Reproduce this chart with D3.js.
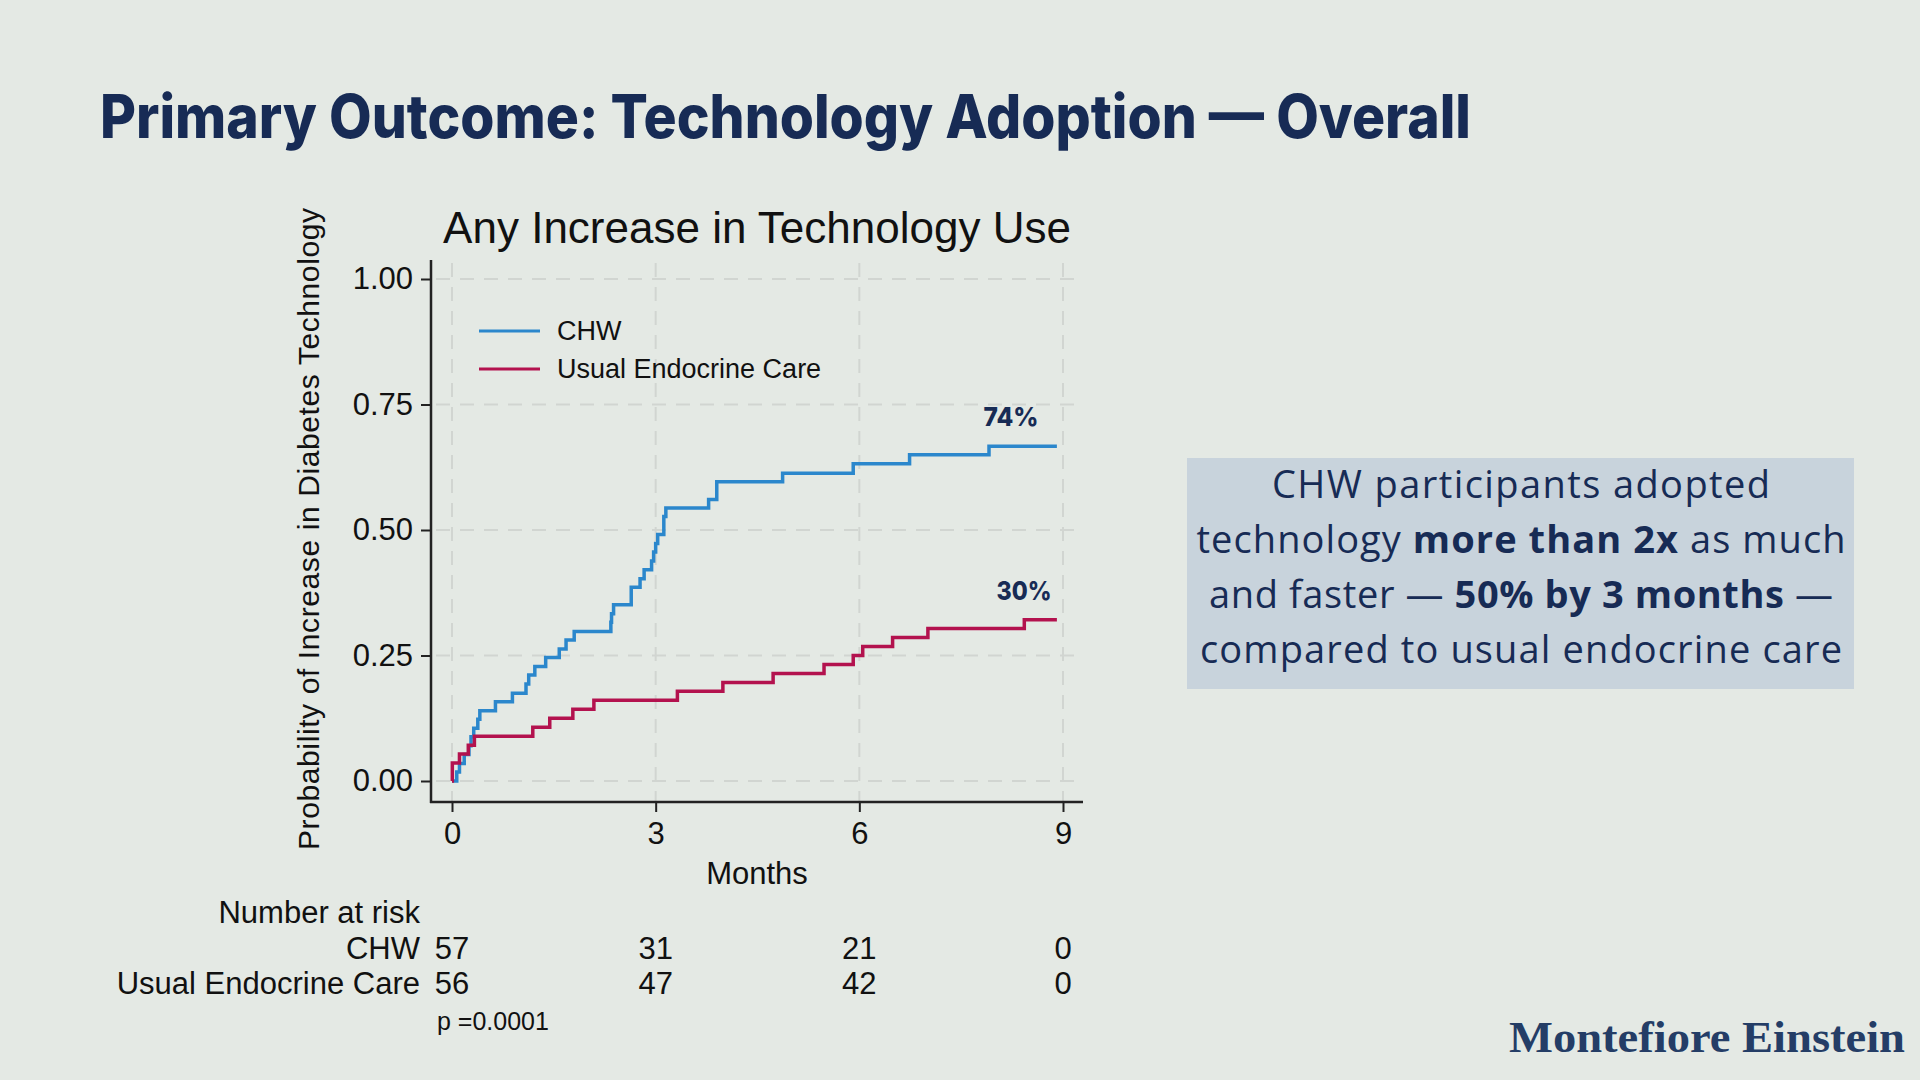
<!DOCTYPE html>
<html>
<head>
<meta charset="utf-8">
<script src="https://cdn.jsdelivr.net/npm/d3@7"></script>
<style>
  body { margin: 0; background: #e4e9e4; }
  svg { display: block; }
</style>
</head>
<body>
<div id="slide"></div>
<script>
// Kaplan-Meier style step data
var chwTime = [0, 0.07, 0.11, 0.18, 0.25, 0.28, 0.32, 0.38, 0.41, 0.64, 0.89, 1.09, 1.13, 1.22, 1.38, 1.58, 1.68, 1.80, 2.34, 2.35, 2.38, 2.64, 2.77, 2.83, 2.94, 2.97, 3.00, 3.03, 3.12, 3.15, 3.78, 3.90, 4.87, 5.91, 6.74, 7.91, 8.91]
var chwProb = [0, 0.018, 0.035, 0.053, 0.070, 0.088, 0.105, 0.123, 0.140, 0.158, 0.175, 0.193, 0.211, 0.228, 0.246, 0.263, 0.281, 0.298, 0.316, 0.333, 0.351, 0.386, 0.403, 0.421, 0.438, 0.456, 0.473, 0.491, 0.527, 0.544, 0.561, 0.596, 0.613, 0.632, 0.650, 0.667, 0.667]

var uecTime = [0, 0.005, 0.11, 0.24, 0.33, 1.19, 1.44, 1.78, 2.09, 3.32, 3.99, 4.73, 5.48, 5.91, 6.05, 6.49, 7.01, 8.43, 8.91]
var uecProb = [0, 0.036, 0.054, 0.071, 0.089, 0.107, 0.125, 0.143, 0.161, 0.179, 0.196, 0.214, 0.232, 0.250, 0.268, 0.286, 0.304, 0.321, 0.321]

var groups = ["CHW", "Usual Endocrine Care"]
var xTicks = [0, 3, 6, 9]
var yTicks = [0, 0.25, 0.5, 0.75, 1]
var riskChw = [57, 31, 21, 0]
var riskUec = [56, 47, 42, 0]
var endLabels = ["74%", "30%"]

var W = 1920, H = 1080
var navy = "#172b55"
var blue = "#2b87cc", red = "#b3124e"
var sans = "'Liberation Sans', Arial, sans-serif"

var svg = d3.select("#slide").append("svg").attr("width", W).attr("height", H)
svg.append("rect").attr("width", W).attr("height", H).attr("fill", "#e4e9e4")

// slide heading
svg.append("text")
    .attr("x", 100).attr("y", 138)
    .attr("font-family", "Inter, Roboto, sans-serif")
    .attr("font-weight", 800)
    .attr("font-size", 60)
    .attr("fill", navy)
    .attr("textLength", 1371).attr("lengthAdjust", "spacingAndGlyphs")
    .text("Primary Outcome: Technology Adoption \u2014 Overall")

var x = d3.scaleLinear().domain([0, 9]).range([452, 1063])
var y = d3.scaleLinear().domain([0, 1]).range([781, 279])

var chart = svg.append("g").attr("font-family", sans).attr("fill", "#111")

// grid
chart.append("g").selectAll("line").data(yTicks).enter().append("line")
    .attr("x1", 436).attr("x2", 1082)
    .attr("y1", d => y(d)).attr("y2", d => y(d))
    .attr("stroke", "#d1d5d1").attr("stroke-width", 2).attr("stroke-dasharray", "14,10")
chart.append("g").selectAll("line").data(xTicks).enter().append("line")
    .attr("x1", d => x(d)).attr("x2", d => x(d))
    .attr("y1", 263).attr("y2", 802)
    .attr("stroke", "#d1d5d1").attr("stroke-width", 2).attr("stroke-dasharray", "14,10")

// axes
var yAxis = chart.append("g").attr("transform", "translate(431,0)")
    .call(d3.axisLeft(y).tickValues(yTicks).tickFormat(d3.format(".2f")).tickSize(10).tickPadding(8))
var xAxis = chart.append("g").attr("transform", "translate(0,802)")
    .call(d3.axisBottom(x).tickValues(xTicks).tickSize(10).tickPadding(10))
;[yAxis, xAxis].forEach(a => {
    a.select(".domain").remove()
    a.selectAll("line").attr("stroke", "#222").attr("stroke-width", 2)
    a.selectAll("text").attr("font-size", 31).attr("fill", "#111").attr("font-family", sans)
})
chart.append("line").attr("x1", 431).attr("x2", 431).attr("y1", 260).attr("y2", 803).attr("stroke", "#222").attr("stroke-width", 2.5)
chart.append("line").attr("x1", 430).attr("x2", 1083).attr("y1", 802).attr("y2", 802).attr("stroke", "#222").attr("stroke-width", 2.5)

// curves
var line = d3.line().curve(d3.curveStepAfter).x(d => x(d[0])).y(d => y(d[1]))
var series = [
    {name: groups[0], color: blue, pts: chwTime.map((t, i) => [t, chwProb[i]])},
    {name: groups[1], color: red, pts: uecTime.map((t, i) => [t, uecProb[i]])}
]
chart.append("g").selectAll("path").data(series).enter().append("path")
    .attr("d", d => line(d.pts))
    .attr("fill", "none").attr("stroke", d => d.color).attr("stroke-width", 3.5)

// legend
var leg = chart.append("g").selectAll("g").data(series).enter().append("g")
    .attr("transform", (d, i) => `translate(479,${331 + i * 38})`)
leg.append("line").attr("x1", 0).attr("x2", 61).attr("stroke", d => d.color).attr("stroke-width", 3)
leg.append("text").attr("x", 78).attr("dy", "0.35em").attr("font-size", 27).text(d => d.name)

// end labels
chart.append("g").selectAll("text").data(series).enter().append("text")
    .attr("x", (d, i) => i ? 1024 : 1011)
    .attr("y", d => y(d.pts[d.pts.length - 1][1]) - 20)
    .attr("text-anchor", "middle")
    .attr("font-family", "Inter, Roboto, sans-serif").attr("font-weight", 800)
    .attr("font-size", 26).attr("fill", navy)
    .attr("textLength", 55).attr("lengthAdjust", "spacingAndGlyphs")
    .text((d, i) => endLabels[i])

// titles
chart.append("text").attr("x", 757).attr("y", 243).attr("text-anchor", "middle")
    .attr("font-size", 44).text("Any Increase in Technology Use")
chart.append("text").attr("transform", "translate(319,529) rotate(-90)").attr("text-anchor", "middle")
    .attr("font-size", 30).attr("textLength", 642).attr("lengthAdjust", "spacing")
    .text("Probability of Increase in Diabetes Technology")
chart.append("text").attr("x", 757).attr("y", 884).attr("text-anchor", "middle")
    .attr("font-size", 31).text("Months")

// number at risk table
chart.append("text").attr("x", 420).attr("y", 923).attr("text-anchor", "end").attr("font-size", 31).text("Number at risk")
var rows = [riskChw, riskUec]
rows.forEach((r, i) => {
    var yy = 959 + i * 35
    chart.append("text").attr("x", 420).attr("y", yy).attr("text-anchor", "end").attr("font-size", 31).text(groups[i])
    chart.append("g").selectAll("text").data(r).enter().append("text")
        .attr("x", (d, j) => x(xTicks[j])).attr("y", yy)
        .attr("text-anchor", "middle").attr("font-size", 31).text(d => d)
})
chart.append("text").attr("x", 437).attr("y", 1030).attr("font-size", 25).text("p =0.0001")

// callout box
svg.append("rect").attr("x", 1187).attr("y", 458).attr("width", 667).attr("height", 231).attr("fill", "#c8d3dc")
var callout = [
    [["CHW participants adopted", false]],
    [["technology ", false], ["more than 2x", true], [" as much", false]],
    [["and faster \u2014 ", false], ["50% by 3 months", true], [" \u2014", false]],
    [["compared to usual endocrine care", false]]
]
var calloutWidth = [498, 649, 624, 642]
callout.forEach((parts, i) => {
    var t = svg.append("text").attr("x", 1521).attr("y", 498 + i * 55)
        .attr("text-anchor", "middle")
        .attr("font-family", "'Open Sans', 'Noto Sans', sans-serif")
        .attr("font-size", 38).attr("fill", navy)
        .attr("textLength", calloutWidth[i]).attr("lengthAdjust", "spacing")
    parts.forEach(p => t.append("tspan").attr("font-weight", p[1] ? 700 : 400).text(p[0]))
})

// logo wordmark
svg.append("text").attr("x", 1509).attr("y", 1052)
    .attr("font-family", "'Liberation Serif', 'DejaVu Serif', serif").attr("font-weight", 700)
    .attr("font-size", 45).attr("fill", "#243d66")
    .attr("textLength", 396).attr("lengthAdjust", "spacingAndGlyphs")
    .text("Montefiore Einstein")
</script>
</body>
</html>
